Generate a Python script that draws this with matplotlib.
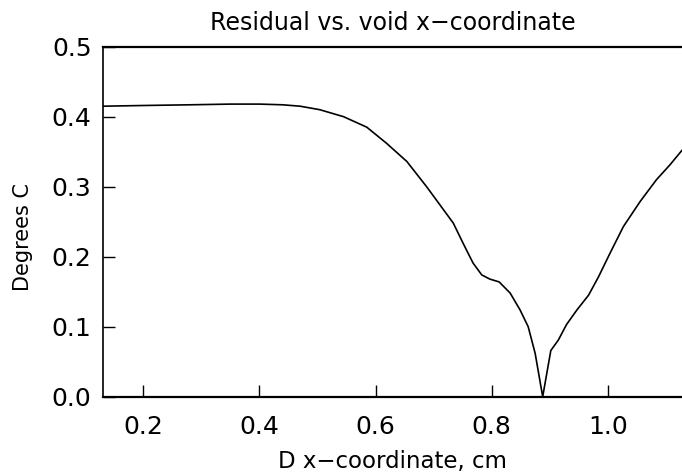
import matplotlib
matplotlib.use("Agg")
import matplotlib.pyplot as plt

# Residual curve
x_cm = [0.13, 0.20, 0.28, 0.35, 0.40, 0.44, 0.47, 0.504, 0.545, 0.585,
        0.619, 0.654, 0.688, 0.711, 0.734, 0.751, 0.768, 0.783, 0.797,
        0.813, 0.832, 0.849, 0.863, 0.875, 0.888, 0.902, 0.915, 0.929,
        0.947, 0.967, 0.984, 1.004, 1.027, 1.056, 1.084, 1.107, 1.128]
residual = [0.415, 0.416, 0.417, 0.418, 0.418, 0.417, 0.415, 0.410, 0.400,
            0.385, 0.362, 0.336, 0.300, 0.274, 0.248, 0.219, 0.191, 0.174,
            0.168, 0.164, 0.148, 0.124, 0.100, 0.062, 0.0, 0.066, 0.081,
            0.103, 0.124, 0.145, 0.171, 0.205, 0.243, 0.279, 0.310, 0.331,
            0.352]

xticks = [0.2, 0.4, 0.6, 0.8, 1.0]
yticks = [0.0, 0.1, 0.2, 0.3, 0.4, 0.5]

plt.rcParams["font.family"] = ["DejaVu Sans"]

fig = plt.figure(figsize=(6.82, 4.75), dpi=100)
ax = fig.add_axes([0.1506, 0.1648, 0.8494, 0.7369])

ax.plot(x_cm, residual, color="black", lw=1.2)

ax.set_xlim(0.13, 1.128)
ax.set_ylim(0.0, 0.5)
ax.set_xticks(xticks)
ax.set_xticklabels(["%.1f" % v for v in xticks])
ax.set_yticks(yticks)
ax.set_yticklabels(["%.1f" % v for v in yticks])

ax.tick_params(axis="both", direction="in", length=8.5, width=1.0,
               labelsize=18, colors="black")
ax.tick_params(axis="x", pad=13)
ax.tick_params(axis="y", pad=8)

ax.spines["right"].set_visible(False)
ax.spines["top"].set_linewidth(1.6)
ax.spines["bottom"].set_linewidth(1.6)
ax.spines["left"].set_linewidth(1.2)

ax.set_xlabel("D x\u2212coordinate, cm", fontsize=16.5)
ax.xaxis.set_label_coords(0.5, -0.152)
ax.set_ylabel("Degrees C", fontsize=15)
ax.yaxis.set_label_coords(-0.12, 0.456)

ax.set_title("Residual vs. void x\u2212coordinate", fontsize=17, pad=12)

fig.savefig("out.png", dpi=100)
